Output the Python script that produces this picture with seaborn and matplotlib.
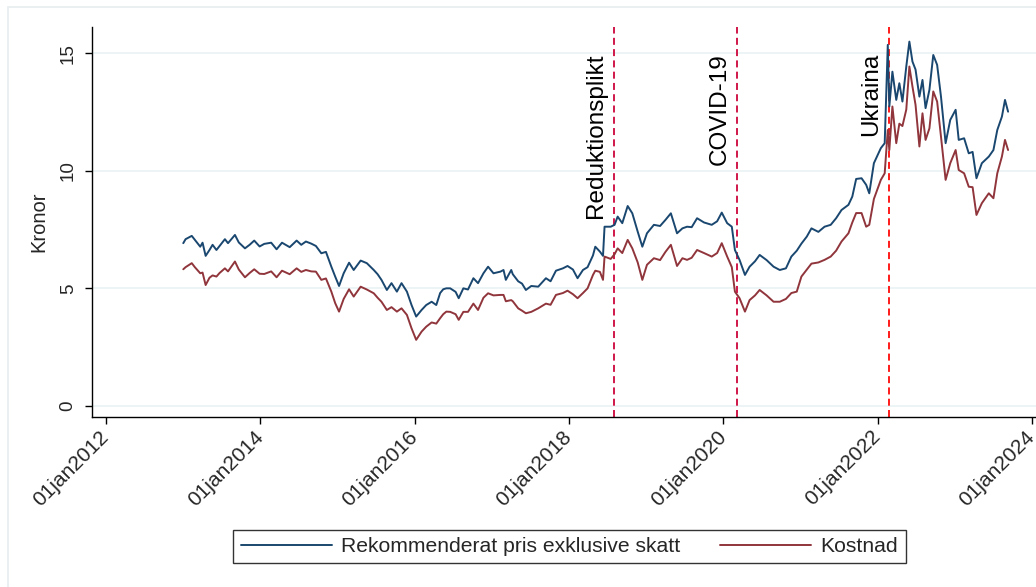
import numpy as np
import pandas as pd
import matplotlib
matplotlib.use("Agg")
import matplotlib.pyplot as plt
from matplotlib.ticker import FuncFormatter
from matplotlib.patches import Rectangle
import seaborn as sns


# decimal years
years = [
    2013.00, 2013.03, 2013.11, 2013.15, 2013.22, 2013.25, 2013.29, 2013.34, 2013.38, 2013.43,
    2013.47, 2013.54, 2013.58, 2013.67, 2013.72, 2013.80, 2013.86, 2013.92, 2013.99, 2014.05,
    2014.14, 2014.21, 2014.28, 2014.38, 2014.47, 2014.53, 2014.59, 2014.66, 2014.72, 2014.79,
    2014.85, 2014.92, 2014.97, 2015.02, 2015.08, 2015.15, 2015.21, 2015.30, 2015.38, 2015.47,
    2015.52, 2015.57, 2015.64, 2015.70, 2015.77, 2015.83, 2015.90, 2015.96, 2016.02, 2016.09,
    2016.15, 2016.22, 2016.28, 2016.33, 2016.37, 2016.41, 2016.46, 2016.53, 2016.57, 2016.63,
    2016.69, 2016.76, 2016.82, 2016.89, 2016.95, 2017.02, 2017.11, 2017.15, 2017.18, 2017.25,
    2017.27, 2017.34, 2017.39, 2017.44, 2017.51, 2017.60, 2017.70, 2017.76, 2017.83, 2017.92,
    2017.98, 2018.05, 2018.11, 2018.18, 2018.24, 2018.31, 2018.34, 2018.40, 2018.44, 2018.46,
    2018.54, 2018.59, 2018.63, 2018.69, 2018.76, 2018.82, 2018.89, 2018.95, 2019.01, 2019.10,
    2019.18, 2019.25, 2019.32, 2019.40, 2019.47, 2019.53, 2019.59, 2019.66, 2019.75, 2019.85,
    2019.92, 2019.98, 2020.05, 2020.11, 2020.15, 2020.21, 2020.28, 2020.34, 2020.41, 2020.47,
    2020.56, 2020.65, 2020.73, 2020.81, 2020.88, 2020.95, 2021.01, 2021.08, 2021.14, 2021.23,
    2021.31, 2021.39, 2021.46, 2021.53, 2021.62, 2021.67, 2021.72, 2021.79, 2021.85, 2021.89,
    2021.95, 2022.04, 2022.09, 2022.13, 2022.15, 2022.19, 2022.24, 2022.28, 2022.32, 2022.37,
    2022.41, 2022.45, 2022.49, 2022.54, 2022.58, 2022.62, 2022.67, 2022.72, 2022.77, 2022.82,
    2022.88, 2022.94, 2023.01, 2023.05, 2023.12, 2023.18, 2023.23, 2023.28, 2023.35, 2023.44,
    2023.50, 2023.55, 2023.61, 2023.65, 2023.69,
]

pris = [
    6.92, 7.09, 7.23, 7.06, 6.77, 6.94, 6.38, 6.63, 6.85, 6.63,
    6.80, 7.09, 6.92, 7.27, 6.95, 6.70, 6.85, 7.03, 6.78, 6.89,
    6.94, 6.66, 6.94, 6.75, 7.03, 6.85, 6.99, 6.90, 6.80, 6.49,
    6.55, 5.92, 5.50, 5.10, 5.64, 6.09, 5.78, 6.18, 6.07, 5.78,
    5.60, 5.36, 4.93, 5.22, 4.86, 5.22, 4.86, 4.29, 3.80, 4.08,
    4.29, 4.43, 4.29, 4.80, 4.96, 5.00, 5.00, 4.85, 4.58, 5.00,
    4.95, 5.43, 5.22, 5.64, 5.92, 5.64, 5.71, 5.78, 5.36, 5.78,
    5.60, 5.30, 5.20, 4.93, 5.10, 5.07, 5.43, 5.30, 5.75, 5.85,
    5.95, 5.80, 5.43, 5.78, 5.90, 6.40, 6.77, 6.56, 6.38, 7.62,
    7.62, 7.70, 8.05, 7.77, 8.50, 8.19, 7.41, 6.77, 7.34, 7.70,
    7.65, 7.91, 8.19, 7.34, 7.55, 7.62, 7.60, 7.98, 7.80, 7.70,
    7.85, 8.22, 7.77, 7.62, 6.63, 6.21, 5.57, 5.92, 6.15, 6.42,
    6.20, 5.92, 5.78, 5.85, 6.35, 6.60, 6.90, 7.20, 7.55, 7.40,
    7.62, 7.70, 7.98, 8.33, 8.55, 8.90, 9.65, 9.68, 9.40, 9.04,
    10.32, 10.96, 11.17, 15.35, 12.73, 14.21, 13.01, 13.72, 12.94, 14.43,
    15.49, 14.64, 14.30, 13.15, 13.86, 12.66, 13.44, 14.92, 14.50, 13.15,
    11.17, 12.16, 12.59, 11.31, 11.38, 10.74, 10.80, 9.68, 10.32, 10.60,
    10.88, 11.73, 12.30, 13.01, 12.51,
]

kostnad = [
    5.81, 5.90, 6.07, 5.90, 5.64, 5.67, 5.14, 5.45, 5.55, 5.50,
    5.65, 5.85, 5.72, 6.14, 5.80, 5.47, 5.65, 5.81, 5.62, 5.61,
    5.72, 5.47, 5.75, 5.60, 5.85, 5.70, 5.78, 5.72, 5.71, 5.36,
    5.42, 4.86, 4.37, 4.01, 4.55, 4.96, 4.65, 5.07, 4.95, 4.79,
    4.60, 4.43, 4.08, 4.20, 4.01, 4.15, 3.87, 3.30, 2.81, 3.16,
    3.37, 3.55, 3.50, 3.73, 3.90, 4.01, 4.00, 3.90, 3.66, 4.00,
    4.00, 4.35, 4.08, 4.60, 4.79, 4.70, 4.72, 4.72, 4.45, 4.50,
    4.45, 4.15, 4.05, 3.94, 4.00, 4.15, 4.35, 4.30, 4.72, 4.80,
    4.90, 4.75, 4.58, 4.80, 5.00, 5.57, 5.75, 5.70, 5.36, 6.35,
    6.25, 6.45, 6.70, 6.50, 7.06, 6.70, 6.10, 5.36, 6.00, 6.28,
    6.20, 6.55, 6.85, 5.95, 6.28, 6.21, 6.30, 6.63, 6.50, 6.35,
    6.50, 6.92, 6.35, 5.90, 4.86, 4.58, 4.01, 4.50, 4.70, 4.93,
    4.70, 4.43, 4.43, 4.55, 4.80, 4.86, 5.50, 5.80, 6.05, 6.10,
    6.21, 6.35, 6.60, 6.99, 7.34, 7.80, 8.20, 8.20, 7.62, 7.70,
    8.80, 9.61, 9.89, 11.73, 10.88, 12.73, 11.17, 12.00, 11.90, 12.60,
    14.43, 13.58, 12.80, 11.03, 12.44, 11.31, 11.80, 13.37, 12.94, 11.45,
    9.61, 10.32, 10.88, 10.03, 9.89, 9.32, 9.30, 8.12, 8.62, 9.04,
    8.83, 9.89, 10.60, 11.31, 10.88,
]

series_names = ["Rekommenderat pris exklusive skatt", "Kostnad"]
series_colors = ["#1a476f", "#90353b"]

event_dates = ["2018-08-03", "2020-03-08", "2022-02-25"]
event_labels = ["Reduktionsplikt", "COVID-19", "Ukraina"]
event_colors = ["#d0174a", "#d0174a", "#ff1a1a"]

tick_years = [2012, 2014, 2016, 2018, 2020, 2022, 2024]
y_ticks = [0, 5, 10, 15]


def dec_to_date(t):
    y = int(t)
    start = pd.Timestamp(year=y, month=1, day=1)
    end = pd.Timestamp(year=y + 1, month=1, day=1)
    return start + (t - y) * (end - start)


dates = [dec_to_date(t) for t in years]
df = pd.concat([
    pd.DataFrame({"datum": dates, "kronor": pris, "serie": series_names[0]}),
    pd.DataFrame({"datum": dates, "kronor": kostnad, "serie": series_names[1]}),
])

sns.set_theme(style="white")
plt.rcParams["font.family"] = ["Liberation Sans", "DejaVu Sans"]

fig = plt.figure(figsize=(10.36, 5.87), dpi=100)
ax = fig.add_axes([92 / 1036, 1 - 417 / 587, 1 - 92 / 1036, (417 - 27) / 587])

# faint outer border of the graph region
fig.add_artist(Rectangle((8 / 1036, -0.1), 1.2, 1 - 7 / 587 + 0.1, transform=fig.transFigure,
                         fill=False, edgecolor="#e6eef0", linewidth=1.2))

sns.lineplot(data=df, x="datum", y="kronor", hue="serie",
             palette=dict(zip(series_names, series_colors)),
             linewidth=1.4, ax=ax, estimator=None, sort=False)

for d, lab, col in zip(event_dates, event_labels, event_colors):
    d = pd.Timestamp(d)
    ax.axvline(d, color=col, linestyle=(0, (3.6, 2.2)), linewidth=1.4, zorder=1)
    ax.annotate(lab, xy=(d, 15), xytext=(-5, 0), textcoords="offset points",
                rotation=90, ha="right", va="top", fontsize=17.5, color="black")

ax.set_ylim(-0.47, 16.11)
ax.set_xlim(pd.Timestamp("2011-10-27"), pd.Timestamp("2024-01-20"))
ax.set_yticks(y_ticks)
ax.set_xticks([pd.Timestamp(f"{y}-01-01") for y in tick_years])
ax.xaxis.set_major_formatter(FuncFormatter(
    lambda v, pos: matplotlib.dates.num2date(v).strftime("%d%b%Y").lower()))

ax.grid(axis="y", color="#eaf2f3", linewidth=1.2)
ax.grid(axis="x", visible=False)
for s in ["top", "right"]:
    ax.spines[s].set_visible(False)
for s in ["left", "bottom"]:
    ax.spines[s].set_color("black")
    ax.spines[s].set_linewidth(1.0)

ax.tick_params(axis="both", which="major", direction="out", length=5, width=1.0,
               color="black", labelsize=13.5, bottom=True, left=True)
ax.tick_params(axis="x", labelsize=15, pad=7)
ax.tick_params(axis="y", pad=6)
for lab in ax.get_yticklabels():
    lab.set_rotation(90)
    lab.set_va("center")
for lab in ax.get_xticklabels():
    lab.set_rotation(45)
    lab.set_ha("right")
    lab.set_va("center")
    lab.set_rotation_mode("anchor")

ax.set_xlabel("")
ax.set_ylabel("Kronor", fontsize=14.5, labelpad=8)

handles, labels = ax.get_legend_handles_labels()
ax.get_legend().remove()
leg = fig.legend(handles, labels, loc="center", ncol=2,
                 bbox_to_anchor=(569.5 / 1036, 1 - 546.5 / 587),
                 fontsize=15.2, frameon=True, fancybox=False, handlelength=4.3,
                 handletextpad=0.45, columnspacing=1.9, borderpad=0.35)
leg.get_frame().set_edgecolor("black")
leg.get_frame().set_linewidth(1.0)
for h in leg.get_lines():
    h.set_linewidth(1.4)

fig.savefig("out.png", dpi=100)
